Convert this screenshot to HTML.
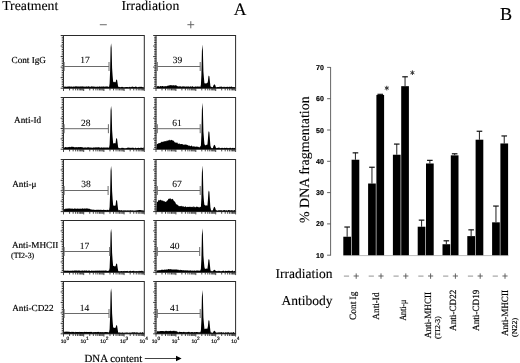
<!DOCTYPE html>
<html><head><meta charset="utf-8"><style>
html,body{margin:0;padding:0;background:#fff;width:520px;height:363px;overflow:hidden}
svg{display:block;filter:grayscale(1)}
text{fill:#000;stroke:#000;stroke-width:0.18px;text-rendering:geometricPrecision}
</style></head><body>
<svg width="520" height="363" viewBox="0 0 520 363">
<text x="2.2" y="10.0" font-size="13.75" text-anchor="start" font-family="Liberation Serif" font-weight="normal"  style="stroke-width:0.12px">Treatment</text>
<text x="121.5" y="10.2" font-size="13.7" text-anchor="start" font-family="Liberation Serif" font-weight="normal"  style="stroke-width:0.12px">Irradiation</text>
<text x="233.8" y="14.6" font-size="17.6" text-anchor="start" font-family="Liberation Serif" font-weight="normal"  style="stroke-width:0.12px">A</text>
<text x="500.0" y="19.5" font-size="18.2" text-anchor="start" font-family="Liberation Serif" font-weight="normal"  style="stroke-width:0.12px">B</text>
<path d="M99.8,24.7H106.8" stroke="#777" stroke-width="1.1"/>
<path d="M187.4,24.7H194.2M190.8,21.2V28.3" stroke="#666" stroke-width="1"/>
<text x="11.5" y="62.6" font-size="9.2" text-anchor="start" font-family="Liberation Serif" font-weight="normal" >Cont IgG</text>
<text x="14.1" y="122.5" font-size="9.2" text-anchor="start" font-family="Liberation Serif" font-weight="normal" >Anti-Id</text>
<text x="12.2" y="187.1" font-size="9.2" text-anchor="start" font-family="Liberation Serif" font-weight="normal" >Anti-&#956;</text>
<text x="11.9" y="247.8" font-size="9.2" text-anchor="start" font-family="Liberation Serif" font-weight="normal" >Anti-MHCII</text>
<text x="12.2" y="310.8" font-size="9.2" text-anchor="start" font-family="Liberation Serif" font-weight="normal" >Anti-CD22</text>
<text x="11.0" y="257.8" font-size="7.9" text-anchor="start" font-family="Liberation Serif" font-weight="normal" >(TI2-3)</text>
<rect x="63.5" y="35.5" width="80.8" height="52.7" fill="none" stroke="#2a2a2a" stroke-width="1"/>
<path d="M60.7,88.20H63.9 M61.7,86.44H63.9 M61.7,84.69H63.9 M61.7,82.93H63.9 M61.7,81.17H63.9 M61.7,79.42H63.9 M60.7,77.66H63.9 M61.7,75.90H63.9 M61.7,74.15H63.9 M61.7,72.39H63.9 M61.7,70.63H63.9 M61.7,68.88H63.9 M60.7,67.12H63.9 M61.7,65.36H63.9 M61.7,63.61H63.9 M61.7,61.85H63.9 M61.7,60.09H63.9 M61.7,58.34H63.9 M60.7,56.58H63.9 M61.7,54.82H63.9 M61.7,53.07H63.9 M61.7,51.31H63.9 M61.7,49.55H63.9 M61.7,47.80H63.9 M60.7,46.04H63.9 M61.7,44.28H63.9 M61.7,42.53H63.9 M61.7,40.77H63.9 M61.7,39.01H63.9 M61.7,37.26H63.9 M60.7,35.50H63.9" stroke="#333" stroke-width="1"/>
<path d="M63.50,88.2v2.8 M69.58,88.2v2.2 M73.14,88.2v2.2 M75.66,88.2v2.2 M77.62,88.2v2.2 M79.22,88.2v2.2 M80.57,88.2v2.2 M81.74,88.2v2.2 M82.78,88.2v2.2 M83.70,88.2v2.8 M89.78,88.2v2.2 M93.34,88.2v2.2 M95.86,88.2v2.2 M97.82,88.2v2.2 M99.42,88.2v2.2 M100.77,88.2v2.2 M101.94,88.2v2.2 M102.98,88.2v2.2 M103.90,88.2v2.8 M109.98,88.2v2.2 M113.54,88.2v2.2 M116.06,88.2v2.2 M118.02,88.2v2.2 M119.62,88.2v2.2 M120.97,88.2v2.2 M122.14,88.2v2.2 M123.18,88.2v2.2 M124.10,88.2v2.8 M130.18,88.2v2.2 M133.74,88.2v2.2 M136.26,88.2v2.2 M138.22,88.2v2.2 M139.82,88.2v2.2 M141.17,88.2v2.2 M142.34,88.2v2.2 M143.38,88.2v2.2 M144.30,88.2v2.8" stroke="#333" stroke-width="0.9"/>
<path d="M64.0,88.2 L64.10,86.81 L64.60,86.61 L65.10,86.68 L65.60,86.60 L66.10,86.64 L66.60,86.85 L67.10,86.40 L67.60,86.77 L68.10,86.33 L68.60,86.66 L69.10,86.32 L69.60,86.43 L70.10,86.83 L70.60,86.41 L71.10,86.55 L71.60,86.62 L72.10,86.71 L72.60,86.78 L73.10,86.59 L73.60,86.55 L74.10,86.72 L74.60,86.48 L75.10,86.56 L75.60,86.37 L76.10,86.54 L76.60,86.32 L77.10,86.45 L77.60,86.61 L78.10,86.50 L78.60,86.51 L79.10,86.41 L79.60,86.54 L80.10,86.63 L80.60,86.33 L81.10,86.50 L81.60,86.48 L82.10,86.30 L82.60,86.46 L83.10,86.50 L83.60,86.62 L84.10,86.83 L84.60,86.44 L85.10,86.75 L85.60,86.38 L86.10,86.63 L86.60,86.37 L87.10,86.38 L87.60,86.65 L88.10,86.37 L88.60,86.34 L89.10,86.76 L89.60,86.61 L90.10,86.67 L90.60,86.65 L91.10,86.56 L91.60,86.34 L92.10,86.53 L92.60,86.59 L93.10,86.39 L93.60,86.41 L94.10,86.66 L94.60,86.52 L95.10,86.86 L95.60,86.80 L96.10,86.87 L96.60,86.81 L97.10,86.68 L97.60,86.38 L98.10,86.65 L98.60,86.69 L99.10,86.83 L99.60,86.30 L100.10,86.61 L100.60,86.84 L101.10,86.74 L101.60,86.45 L102.10,86.33 L102.60,86.72 L103.10,86.71 L103.60,86.31 L104.10,86.42 L104.60,86.68 L105.10,86.44 L105.60,86.43 L106.10,86.77 L106.60,86.31 L107.10,86.42 L107.60,86.46 L108.10,86.59 L108.60,86.88 L109.10,86.73 L109.60,83.70 L110.10,71.10 L110.60,47.70 L111.10,43.20 L111.60,47.70 L112.10,67.95 L112.60,75.60 L113.10,81.45 L113.60,82.05 L114.10,82.62 L114.60,81.79 L115.10,81.95 L115.60,82.52 L116.10,80.10 L116.60,79.40 L117.10,80.10 L117.60,83.36 L118.10,86.44 L118.60,86.75 L119.10,87.20 L119.60,86.69 L120.10,87.15 L120.60,87.20 L121.10,86.70 L121.60,87.02 L122.10,87.09 L122.60,86.81 L123.10,87.20 L123.60,87.20 L124.10,87.20 L124.60,87.20 L125.10,87.15 L125.60,86.98 L126.10,87.10 L126.60,86.90 L127.10,86.88 L127.60,86.95 L128.10,87.30 L128.60,87.16 L129.10,86.72 L129.60,87.04 L130.10,86.86 L130.60,87.22 L131.10,87.10 L131.60,86.68 L132.10,86.85 L132.60,86.57 L133.10,86.81 L133.60,86.89 L134.10,86.94 L134.60,86.92 L135.10,86.74 L135.60,86.55 L136.10,86.85 L136.60,86.63 L137.10,87.20 L137.60,87.24 L138.10,87.24 L138.60,86.67 L139.10,87.18 L139.60,86.77 L140.10,86.59 L140.60,87.12 L141.10,86.98 L141.60,86.51 L142.10,87.17 L142.60,86.89 L143.10,87.14 L143.60,86.72 L143.8,88.2 Z" fill="#000"/>
<path d="M64.1,66.5H109.0M64.1,62.0v9M109.0,62.0v9" stroke="#6a6a6a" stroke-width="1" fill="none"/>
<text x="80.3" y="63.4" font-size="9.5" text-anchor="start" font-family="Liberation Serif" font-weight="normal" style="stroke-width:0.08px">17</text>
<rect x="63.5" y="97.5" width="80.8" height="51.7" fill="none" stroke="#2a2a2a" stroke-width="1"/>
<path d="M60.7,149.20H63.9 M61.7,147.48H63.9 M61.7,145.75H63.9 M61.7,144.03H63.9 M61.7,142.31H63.9 M61.7,140.58H63.9 M60.7,138.86H63.9 M61.7,137.14H63.9 M61.7,135.41H63.9 M61.7,133.69H63.9 M61.7,131.97H63.9 M61.7,130.24H63.9 M60.7,128.52H63.9 M61.7,126.80H63.9 M61.7,125.07H63.9 M61.7,123.35H63.9 M61.7,121.63H63.9 M61.7,119.90H63.9 M60.7,118.18H63.9 M61.7,116.46H63.9 M61.7,114.73H63.9 M61.7,113.01H63.9 M61.7,111.29H63.9 M61.7,109.56H63.9 M60.7,107.84H63.9 M61.7,106.12H63.9 M61.7,104.39H63.9 M61.7,102.67H63.9 M61.7,100.95H63.9 M61.7,99.22H63.9 M60.7,97.50H63.9" stroke="#333" stroke-width="1"/>
<path d="M63.50,149.2v2.8 M69.58,149.2v2.2 M73.14,149.2v2.2 M75.66,149.2v2.2 M77.62,149.2v2.2 M79.22,149.2v2.2 M80.57,149.2v2.2 M81.74,149.2v2.2 M82.78,149.2v2.2 M83.70,149.2v2.8 M89.78,149.2v2.2 M93.34,149.2v2.2 M95.86,149.2v2.2 M97.82,149.2v2.2 M99.42,149.2v2.2 M100.77,149.2v2.2 M101.94,149.2v2.2 M102.98,149.2v2.2 M103.90,149.2v2.8 M109.98,149.2v2.2 M113.54,149.2v2.2 M116.06,149.2v2.2 M118.02,149.2v2.2 M119.62,149.2v2.2 M120.97,149.2v2.2 M122.14,149.2v2.2 M123.18,149.2v2.2 M124.10,149.2v2.8 M130.18,149.2v2.2 M133.74,149.2v2.2 M136.26,149.2v2.2 M138.22,149.2v2.2 M139.82,149.2v2.2 M141.17,149.2v2.2 M142.34,149.2v2.2 M143.38,149.2v2.2 M144.30,149.2v2.8" stroke="#333" stroke-width="0.9"/>
<path d="M64.0,149.2 L64.10,147.41 L64.60,147.45 L65.10,147.31 L65.60,147.00 L66.10,146.99 L66.60,147.39 L67.10,147.05 L67.60,147.42 L68.10,146.92 L68.60,147.29 L69.10,146.87 L69.60,146.97 L70.10,147.34 L70.60,147.09 L71.10,146.76 L71.60,146.82 L72.10,146.79 L72.60,146.78 L73.10,147.10 L73.60,146.74 L74.10,147.22 L74.60,147.16 L75.10,147.20 L75.60,147.18 L76.10,147.12 L76.60,147.13 L77.10,147.19 L77.60,147.29 L78.10,147.29 L78.60,146.97 L79.10,147.02 L79.60,147.25 L80.10,147.12 L80.60,146.94 L81.10,147.20 L81.60,146.97 L82.10,147.13 L82.60,147.31 L83.10,147.54 L83.60,147.72 L84.10,147.36 L84.60,147.71 L85.10,147.30 L85.60,147.41 L86.10,147.66 L86.60,147.54 L87.10,147.55 L87.60,147.24 L88.10,147.32 L88.60,147.24 L89.10,147.61 L89.60,147.59 L90.10,147.52 L90.60,147.52 L91.10,147.67 L91.60,147.59 L92.10,147.82 L92.60,147.70 L93.10,147.52 L93.60,147.44 L94.10,147.31 L94.60,147.65 L95.10,147.31 L95.60,147.46 L96.10,147.35 L96.60,147.40 L97.10,147.36 L97.60,147.54 L98.10,147.36 L98.60,147.36 L99.10,147.32 L99.60,147.45 L100.10,147.85 L100.60,147.65 L101.10,147.37 L101.60,147.49 L102.10,147.46 L102.60,147.76 L103.10,147.43 L103.60,147.56 L104.10,147.61 L104.60,147.54 L105.10,147.72 L105.60,147.54 L106.10,147.30 L106.60,147.66 L107.10,147.48 L107.60,147.51 L108.10,147.62 L108.60,147.74 L109.10,147.53 L109.60,144.87 L110.10,132.75 L110.60,110.23 L111.10,105.90 L111.60,110.23 L112.10,129.71 L112.60,137.08 L113.10,142.70 L113.60,143.68 L114.10,142.88 L114.60,143.25 L115.10,143.49 L115.60,143.04 L116.10,138.90 L116.60,138.00 L117.10,138.90 L117.60,143.04 L118.10,146.96 L118.60,148.05 L119.10,148.20 L119.60,148.08 L120.10,148.20 L120.60,148.17 L121.10,148.20 L121.60,147.80 L122.10,147.73 L122.60,147.75 L123.10,148.13 L123.60,147.68 L124.10,148.14 L124.60,148.20 L125.10,148.20 L125.60,148.19 L126.10,148.20 L126.60,147.89 L127.10,148.00 L127.60,147.59 L128.10,147.80 L128.60,147.55 L129.10,147.72 L129.60,147.71 L130.10,147.70 L130.60,148.07 L131.10,147.56 L131.60,147.92 L132.10,148.06 L132.60,147.52 L133.10,147.78 L133.60,147.85 L134.10,148.17 L134.60,148.13 L135.10,147.90 L135.60,147.57 L136.10,147.94 L136.60,148.15 L137.10,148.03 L137.60,148.11 L138.10,147.84 L138.60,147.70 L139.10,147.97 L139.60,148.00 L140.10,148.25 L140.60,147.53 L141.10,147.90 L141.60,147.61 L142.10,148.08 L142.60,147.98 L143.10,147.54 L143.60,147.60 L143.8,149.2 Z" fill="#000"/>
<path d="M64.1,128.7H108.4M64.1,124.2v9M108.4,124.2v9" stroke="#6a6a6a" stroke-width="1" fill="none"/>
<text x="81.0" y="125.7" font-size="9.5" text-anchor="start" font-family="Liberation Serif" font-weight="normal" style="stroke-width:0.08px">28</text>
<rect x="63.5" y="159.5" width="80.8" height="52.1" fill="none" stroke="#2a2a2a" stroke-width="1"/>
<path d="M60.7,211.60H63.9 M61.7,209.86H63.9 M61.7,208.13H63.9 M61.7,206.39H63.9 M61.7,204.65H63.9 M61.7,202.92H63.9 M60.7,201.18H63.9 M61.7,199.44H63.9 M61.7,197.71H63.9 M61.7,195.97H63.9 M61.7,194.23H63.9 M61.7,192.50H63.9 M60.7,190.76H63.9 M61.7,189.02H63.9 M61.7,187.29H63.9 M61.7,185.55H63.9 M61.7,183.81H63.9 M61.7,182.08H63.9 M60.7,180.34H63.9 M61.7,178.60H63.9 M61.7,176.87H63.9 M61.7,175.13H63.9 M61.7,173.39H63.9 M61.7,171.66H63.9 M60.7,169.92H63.9 M61.7,168.18H63.9 M61.7,166.45H63.9 M61.7,164.71H63.9 M61.7,162.97H63.9 M61.7,161.24H63.9 M60.7,159.50H63.9" stroke="#333" stroke-width="1"/>
<path d="M63.50,211.6v2.8 M69.58,211.6v2.2 M73.14,211.6v2.2 M75.66,211.6v2.2 M77.62,211.6v2.2 M79.22,211.6v2.2 M80.57,211.6v2.2 M81.74,211.6v2.2 M82.78,211.6v2.2 M83.70,211.6v2.8 M89.78,211.6v2.2 M93.34,211.6v2.2 M95.86,211.6v2.2 M97.82,211.6v2.2 M99.42,211.6v2.2 M100.77,211.6v2.2 M101.94,211.6v2.2 M102.98,211.6v2.2 M103.90,211.6v2.8 M109.98,211.6v2.2 M113.54,211.6v2.2 M116.06,211.6v2.2 M118.02,211.6v2.2 M119.62,211.6v2.2 M120.97,211.6v2.2 M122.14,211.6v2.2 M123.18,211.6v2.2 M124.10,211.6v2.8 M130.18,211.6v2.2 M133.74,211.6v2.2 M136.26,211.6v2.2 M138.22,211.6v2.2 M139.82,211.6v2.2 M141.17,211.6v2.2 M142.34,211.6v2.2 M143.38,211.6v2.2 M144.30,211.6v2.8" stroke="#333" stroke-width="0.9"/>
<path d="M64.0,211.6 L64.10,208.95 L64.60,209.00 L65.10,209.18 L65.60,208.52 L66.10,208.47 L66.60,208.75 L67.10,208.81 L67.60,208.49 L68.10,208.47 L68.60,208.44 L69.10,208.57 L69.60,208.43 L70.10,208.35 L70.60,208.72 L71.10,208.75 L71.60,208.48 L72.10,208.86 L72.60,208.55 L73.10,208.77 L73.60,208.89 L74.10,208.62 L74.60,208.51 L75.10,208.61 L75.60,208.75 L76.10,208.48 L76.60,208.89 L77.10,208.50 L77.60,208.75 L78.10,208.34 L78.60,208.88 L79.10,208.65 L79.60,208.78 L80.10,208.46 L80.60,208.78 L81.10,208.71 L81.60,208.76 L82.10,208.44 L82.60,208.33 L83.10,208.79 L83.60,208.65 L84.10,208.33 L84.60,208.66 L85.10,208.32 L85.60,208.87 L86.10,208.66 L86.60,208.37 L87.10,208.30 L87.60,208.70 L88.10,208.34 L88.60,208.88 L89.10,208.67 L89.60,208.74 L90.10,209.14 L90.60,209.13 L91.10,209.47 L91.60,209.62 L92.10,209.45 L92.60,209.84 L93.10,209.82 L93.60,209.56 L94.10,209.90 L94.60,209.79 L95.10,209.64 L95.60,209.91 L96.10,210.10 L96.60,209.77 L97.10,209.61 L97.60,210.00 L98.10,209.74 L98.60,209.74 L99.10,210.01 L99.60,209.73 L100.10,209.78 L100.60,209.75 L101.10,209.92 L101.60,209.63 L102.10,210.06 L102.60,209.92 L103.10,209.76 L103.60,209.79 L104.10,209.77 L104.60,210.05 L105.10,210.03 L105.60,209.90 L106.10,209.81 L106.60,210.23 L107.10,209.94 L107.60,209.69 L108.10,209.69 L108.60,210.24 L109.10,210.00 L109.60,207.05 L110.10,194.31 L110.60,170.65 L111.10,166.10 L111.60,170.65 L112.10,191.12 L112.60,198.86 L113.10,204.78 L113.60,205.85 L114.10,205.95 L114.60,205.52 L115.10,205.70 L115.60,205.16 L116.10,200.84 L116.60,199.90 L117.10,200.84 L117.60,205.16 L118.10,209.26 L118.60,210.60 L119.10,210.10 L119.60,210.13 L120.10,210.18 L120.60,210.60 L121.10,210.12 L121.60,210.37 L122.10,210.60 L122.60,210.60 L123.10,210.60 L123.60,210.33 L124.10,210.60 L124.60,210.31 L125.10,210.58 L125.60,210.23 L126.10,210.60 L126.60,210.38 L127.10,210.19 L127.60,210.57 L128.10,210.37 L128.60,210.45 L129.10,210.45 L129.60,210.41 L130.10,210.01 L130.60,210.41 L131.10,210.12 L131.60,210.70 L132.10,210.36 L132.60,210.38 L133.10,210.33 L133.60,210.69 L134.10,210.19 L134.60,210.63 L135.10,210.40 L135.60,210.58 L136.10,210.28 L136.60,210.61 L137.10,210.06 L137.60,210.54 L138.10,209.95 L138.60,210.31 L139.10,209.96 L139.60,209.98 L140.10,210.04 L140.60,210.07 L141.10,210.38 L141.60,210.04 L142.10,210.53 L142.60,210.29 L143.10,210.60 L143.60,210.12 L143.8,211.6 Z" fill="#000"/>
<path d="M64.1,190.5H108.1M64.1,186.0v9M108.1,186.0v9" stroke="#6a6a6a" stroke-width="1" fill="none"/>
<text x="81.3" y="187.1" font-size="9.5" text-anchor="start" font-family="Liberation Serif" font-weight="normal" style="stroke-width:0.08px">38</text>
<rect x="63.5" y="220.5" width="80.8" height="51.8" fill="none" stroke="#2a2a2a" stroke-width="1"/>
<path d="M60.7,272.30H63.9 M61.7,270.57H63.9 M61.7,268.85H63.9 M61.7,267.12H63.9 M61.7,265.39H63.9 M61.7,263.67H63.9 M60.7,261.94H63.9 M61.7,260.21H63.9 M61.7,258.49H63.9 M61.7,256.76H63.9 M61.7,255.03H63.9 M61.7,253.31H63.9 M60.7,251.58H63.9 M61.7,249.85H63.9 M61.7,248.13H63.9 M61.7,246.40H63.9 M61.7,244.67H63.9 M61.7,242.95H63.9 M60.7,241.22H63.9 M61.7,239.49H63.9 M61.7,237.77H63.9 M61.7,236.04H63.9 M61.7,234.31H63.9 M61.7,232.59H63.9 M60.7,230.86H63.9 M61.7,229.13H63.9 M61.7,227.41H63.9 M61.7,225.68H63.9 M61.7,223.95H63.9 M61.7,222.23H63.9 M60.7,220.50H63.9" stroke="#333" stroke-width="1"/>
<path d="M63.50,272.3v2.8 M69.58,272.3v2.2 M73.14,272.3v2.2 M75.66,272.3v2.2 M77.62,272.3v2.2 M79.22,272.3v2.2 M80.57,272.3v2.2 M81.74,272.3v2.2 M82.78,272.3v2.2 M83.70,272.3v2.8 M89.78,272.3v2.2 M93.34,272.3v2.2 M95.86,272.3v2.2 M97.82,272.3v2.2 M99.42,272.3v2.2 M100.77,272.3v2.2 M101.94,272.3v2.2 M102.98,272.3v2.2 M103.90,272.3v2.8 M109.98,272.3v2.2 M113.54,272.3v2.2 M116.06,272.3v2.2 M118.02,272.3v2.2 M119.62,272.3v2.2 M120.97,272.3v2.2 M122.14,272.3v2.2 M123.18,272.3v2.2 M124.10,272.3v2.8 M130.18,272.3v2.2 M133.74,272.3v2.2 M136.26,272.3v2.2 M138.22,272.3v2.2 M139.82,272.3v2.2 M141.17,272.3v2.2 M142.34,272.3v2.2 M143.38,272.3v2.2 M144.30,272.3v2.8" stroke="#333" stroke-width="0.9"/>
<path d="M64.0,272.3 L64.10,270.66 L64.60,270.62 L65.10,270.55 L65.60,270.67 L66.10,270.74 L66.60,270.65 L67.10,270.60 L67.60,270.74 L68.10,270.63 L68.60,270.86 L69.10,270.53 L69.60,270.89 L70.10,270.87 L70.60,270.74 L71.10,270.73 L71.60,270.84 L72.10,270.73 L72.60,270.53 L73.10,270.84 L73.60,270.77 L74.10,270.44 L74.60,270.40 L75.10,270.51 L75.60,270.41 L76.10,270.43 L76.60,270.48 L77.10,270.44 L77.60,270.79 L78.10,270.62 L78.60,270.49 L79.10,270.57 L79.60,270.45 L80.10,270.84 L80.60,270.81 L81.10,270.89 L81.60,270.44 L82.10,270.46 L82.60,270.53 L83.10,270.68 L83.60,270.73 L84.10,270.51 L84.60,270.47 L85.10,270.40 L85.60,270.73 L86.10,270.58 L86.60,270.41 L87.10,270.54 L87.60,270.89 L88.10,270.63 L88.60,270.56 L89.10,270.41 L89.60,270.60 L90.10,271.00 L90.60,270.91 L91.10,270.74 L91.60,270.46 L92.10,270.86 L92.60,270.71 L93.10,270.79 L93.60,270.79 L94.10,270.65 L94.60,270.77 L95.10,270.72 L95.60,270.44 L96.10,270.91 L96.60,270.62 L97.10,270.52 L97.60,270.84 L98.10,270.61 L98.60,270.79 L99.10,270.72 L99.60,270.46 L100.10,270.46 L100.60,270.68 L101.10,270.86 L101.60,270.53 L102.10,270.67 L102.60,270.45 L103.10,270.64 L103.60,270.62 L104.10,270.57 L104.60,270.82 L105.10,270.47 L105.60,270.57 L106.10,270.49 L106.60,270.63 L107.10,270.63 L107.60,270.94 L108.10,270.98 L108.60,270.55 L109.10,270.49 L109.60,267.94 L110.10,255.73 L110.60,233.06 L111.10,228.70 L111.60,233.06 L112.10,252.68 L112.60,260.09 L113.10,265.76 L113.60,266.05 L114.10,265.92 L114.60,266.56 L115.10,266.17 L115.60,266.13 L116.10,264.11 L116.60,263.40 L117.10,264.11 L117.60,267.41 L118.10,270.52 L118.60,271.30 L119.10,271.30 L119.60,271.30 L120.10,271.25 L120.60,271.30 L121.10,271.00 L121.60,271.00 L122.10,271.30 L122.60,271.24 L123.10,270.91 L123.60,271.30 L124.10,270.84 L124.60,271.30 L125.10,271.30 L125.60,270.89 L126.10,271.04 L126.60,270.89 L127.10,271.32 L127.60,270.79 L128.10,271.14 L128.60,271.38 L129.10,271.17 L129.60,271.11 L130.10,270.63 L130.60,270.72 L131.10,271.38 L131.60,271.05 L132.10,271.12 L132.60,270.97 L133.10,270.71 L133.60,270.74 L134.10,271.40 L134.60,270.79 L135.10,271.40 L135.60,271.01 L136.10,271.25 L136.60,271.12 L137.10,271.19 L137.60,271.17 L138.10,270.84 L138.60,271.31 L139.10,271.34 L139.60,270.84 L140.10,270.90 L140.60,271.08 L141.10,270.69 L141.60,270.69 L142.10,271.24 L142.60,270.68 L143.10,271.10 L143.60,271.21 L143.8,272.3 Z" fill="#000"/>
<path d="M64.1,251.5H109.7M64.1,247.0v9M109.7,247.0v9" stroke="#6a6a6a" stroke-width="1" fill="none"/>
<text x="79.8" y="249.2" font-size="9.5" text-anchor="start" font-family="Liberation Serif" font-weight="normal" style="stroke-width:0.08px">17</text>
<rect x="63.5" y="281.5" width="80.8" height="52.3" fill="none" stroke="#2a2a2a" stroke-width="1"/>
<path d="M60.7,333.80H63.9 M61.7,332.06H63.9 M61.7,330.31H63.9 M61.7,328.57H63.9 M61.7,326.83H63.9 M61.7,325.08H63.9 M60.7,323.34H63.9 M61.7,321.60H63.9 M61.7,319.85H63.9 M61.7,318.11H63.9 M61.7,316.37H63.9 M61.7,314.62H63.9 M60.7,312.88H63.9 M61.7,311.14H63.9 M61.7,309.39H63.9 M61.7,307.65H63.9 M61.7,305.91H63.9 M61.7,304.16H63.9 M60.7,302.42H63.9 M61.7,300.68H63.9 M61.7,298.93H63.9 M61.7,297.19H63.9 M61.7,295.45H63.9 M61.7,293.70H63.9 M60.7,291.96H63.9 M61.7,290.22H63.9 M61.7,288.47H63.9 M61.7,286.73H63.9 M61.7,284.99H63.9 M61.7,283.24H63.9 M60.7,281.50H63.9" stroke="#333" stroke-width="1"/>
<path d="M63.50,333.8v2.8 M69.58,333.8v2.2 M73.14,333.8v2.2 M75.66,333.8v2.2 M77.62,333.8v2.2 M79.22,333.8v2.2 M80.57,333.8v2.2 M81.74,333.8v2.2 M82.78,333.8v2.2 M83.70,333.8v2.8 M89.78,333.8v2.2 M93.34,333.8v2.2 M95.86,333.8v2.2 M97.82,333.8v2.2 M99.42,333.8v2.2 M100.77,333.8v2.2 M101.94,333.8v2.2 M102.98,333.8v2.2 M103.90,333.8v2.8 M109.98,333.8v2.2 M113.54,333.8v2.2 M116.06,333.8v2.2 M118.02,333.8v2.2 M119.62,333.8v2.2 M120.97,333.8v2.2 M122.14,333.8v2.2 M123.18,333.8v2.2 M124.10,333.8v2.8 M130.18,333.8v2.2 M133.74,333.8v2.2 M136.26,333.8v2.2 M138.22,333.8v2.2 M139.82,333.8v2.2 M141.17,333.8v2.2 M142.34,333.8v2.2 M143.38,333.8v2.2 M144.30,333.8v2.8" stroke="#333" stroke-width="0.9"/>
<path d="M64.0,333.8 L64.10,331.79 L64.60,331.80 L65.10,331.94 L65.60,331.58 L66.10,331.59 L66.60,331.73 L67.10,331.59 L67.60,331.63 L68.10,331.82 L68.60,331.83 L69.10,331.55 L69.60,332.02 L70.10,331.96 L70.60,332.11 L71.10,332.15 L71.60,331.86 L72.10,331.73 L72.60,332.08 L73.10,331.83 L73.60,332.05 L74.10,331.93 L74.60,332.19 L75.10,332.30 L75.60,331.85 L76.10,332.02 L76.60,332.05 L77.10,331.97 L77.60,331.89 L78.10,331.98 L78.60,331.89 L79.10,332.20 L79.60,331.81 L80.10,331.93 L80.60,331.94 L81.10,332.08 L81.60,331.98 L82.10,332.10 L82.60,331.93 L83.10,332.21 L83.60,332.09 L84.10,332.12 L84.60,331.81 L85.10,331.98 L85.60,332.10 L86.10,331.79 L86.60,332.05 L87.10,331.91 L87.60,331.95 L88.10,332.04 L88.60,331.96 L89.10,332.01 L89.60,332.05 L90.10,331.83 L90.60,331.99 L91.10,331.95 L91.60,331.82 L92.10,332.37 L92.60,332.17 L93.10,332.16 L93.60,332.00 L94.10,332.26 L94.60,331.98 L95.10,331.95 L95.60,331.95 L96.10,332.30 L96.60,331.97 L97.10,332.05 L97.60,332.10 L98.10,331.86 L98.60,332.06 L99.10,331.96 L99.60,332.27 L100.10,332.31 L100.60,332.05 L101.10,332.03 L101.60,332.31 L102.10,332.35 L102.60,332.03 L103.10,332.32 L103.60,332.18 L104.10,332.09 L104.60,332.21 L105.10,331.96 L105.60,331.98 L106.10,331.98 L106.60,331.99 L107.10,332.23 L107.60,331.92 L108.10,332.21 L108.60,332.41 L109.10,332.03 L109.60,329.25 L110.10,316.51 L110.60,292.85 L111.10,288.30 L111.60,292.85 L112.10,313.32 L112.60,321.06 L113.10,326.98 L113.60,327.86 L114.10,327.74 L114.60,328.07 L115.10,327.81 L115.60,327.83 L116.10,325.70 L116.60,325.00 L117.10,325.70 L117.60,328.96 L118.10,332.04 L118.60,332.73 L119.10,332.31 L119.60,332.54 L120.10,332.80 L120.60,332.51 L121.10,332.76 L121.60,332.63 L122.10,332.35 L122.60,332.48 L123.10,332.76 L123.60,332.74 L124.10,332.62 L124.60,332.80 L125.10,332.70 L125.60,332.40 L126.10,332.40 L126.60,332.50 L127.10,332.49 L127.60,332.38 L128.10,332.64 L128.60,332.66 L129.10,332.39 L129.60,332.87 L130.10,332.19 L130.60,332.86 L131.10,332.90 L131.60,332.16 L132.10,332.37 L132.60,332.17 L133.10,332.41 L133.60,332.34 L134.10,332.36 L134.60,332.37 L135.10,332.29 L135.60,332.75 L136.10,332.28 L136.60,332.38 L137.10,332.24 L137.60,332.45 L138.10,332.66 L138.60,332.65 L139.10,332.39 L139.60,332.86 L140.10,332.87 L140.60,332.25 L141.10,332.17 L141.60,332.89 L142.10,332.43 L142.60,332.12 L143.10,332.57 L143.60,332.38 L143.8,333.8 Z" fill="#000"/>
<path d="M64.1,313.5H109.0M64.1,309.0v9M109.0,309.0v9" stroke="#6a6a6a" stroke-width="1" fill="none"/>
<text x="79.8" y="310.7" font-size="9.5" text-anchor="start" font-family="Liberation Serif" font-weight="normal" style="stroke-width:0.08px">14</text>
<text x="60.8" y="343.2" font-size="5.0" text-anchor="start" font-family="Liberation Sans" font-weight="normal" >10</text>
<text x="66.39999999999999" y="339.8" font-size="4.8" text-anchor="start" font-family="Liberation Sans" font-weight="normal" >0</text>
<text x="80.5" y="343.2" font-size="5.0" text-anchor="start" font-family="Liberation Sans" font-weight="normal" >10</text>
<text x="86.1" y="339.8" font-size="4.8" text-anchor="start" font-family="Liberation Sans" font-weight="normal" >1</text>
<text x="100.19999999999999" y="343.2" font-size="5.0" text-anchor="start" font-family="Liberation Sans" font-weight="normal" >10</text>
<text x="105.79999999999998" y="339.8" font-size="4.8" text-anchor="start" font-family="Liberation Sans" font-weight="normal" >2</text>
<text x="119.89999999999999" y="343.2" font-size="5.0" text-anchor="start" font-family="Liberation Sans" font-weight="normal" >10</text>
<text x="125.49999999999999" y="339.8" font-size="4.8" text-anchor="start" font-family="Liberation Sans" font-weight="normal" >3</text>
<text x="139.6" y="343.2" font-size="5.0" text-anchor="start" font-family="Liberation Sans" font-weight="normal" >10</text>
<text x="145.2" y="339.8" font-size="4.8" text-anchor="start" font-family="Liberation Sans" font-weight="normal" >4</text>
<rect x="156" y="35.5" width="79.6" height="52.7" fill="none" stroke="#2a2a2a" stroke-width="1"/>
<path d="M153.2,88.20H156.4 M154.2,86.44H156.4 M154.2,84.69H156.4 M154.2,82.93H156.4 M154.2,81.17H156.4 M154.2,79.42H156.4 M153.2,77.66H156.4 M154.2,75.90H156.4 M154.2,74.15H156.4 M154.2,72.39H156.4 M154.2,70.63H156.4 M154.2,68.88H156.4 M153.2,67.12H156.4 M154.2,65.36H156.4 M154.2,63.61H156.4 M154.2,61.85H156.4 M154.2,60.09H156.4 M154.2,58.34H156.4 M153.2,56.58H156.4 M154.2,54.82H156.4 M154.2,53.07H156.4 M154.2,51.31H156.4 M154.2,49.55H156.4 M154.2,47.80H156.4 M153.2,46.04H156.4 M154.2,44.28H156.4 M154.2,42.53H156.4 M154.2,40.77H156.4 M154.2,39.01H156.4 M154.2,37.26H156.4 M153.2,35.50H156.4" stroke="#333" stroke-width="1"/>
<path d="M156.00,88.2v2.8 M161.99,88.2v2.2 M165.49,88.2v2.2 M167.98,88.2v2.2 M169.91,88.2v2.2 M171.49,88.2v2.2 M172.82,88.2v2.2 M173.97,88.2v2.2 M174.99,88.2v2.2 M175.90,88.2v2.8 M181.89,88.2v2.2 M185.39,88.2v2.2 M187.88,88.2v2.2 M189.81,88.2v2.2 M191.39,88.2v2.2 M192.72,88.2v2.2 M193.87,88.2v2.2 M194.89,88.2v2.2 M195.80,88.2v2.8 M201.79,88.2v2.2 M205.29,88.2v2.2 M207.78,88.2v2.2 M209.71,88.2v2.2 M211.29,88.2v2.2 M212.62,88.2v2.2 M213.77,88.2v2.2 M214.79,88.2v2.2 M215.70,88.2v2.8 M221.69,88.2v2.2 M225.19,88.2v2.2 M227.68,88.2v2.2 M229.61,88.2v2.2 M231.19,88.2v2.2 M232.52,88.2v2.2 M233.67,88.2v2.2 M234.69,88.2v2.2 M235.60,88.2v2.8" stroke="#333" stroke-width="0.9"/>
<path d="M156.5,88.2 L156.90,86.58 L157.40,86.18 L157.90,86.00 L158.40,86.06 L158.90,86.56 L159.40,86.42 L159.90,86.45 L160.40,86.10 L160.90,86.04 L161.40,86.50 L161.90,86.12 L162.40,85.98 L162.90,85.96 L163.40,86.53 L163.90,86.14 L164.40,86.46 L164.90,86.08 L165.40,86.00 L165.90,86.47 L166.40,86.16 L166.90,86.09 L167.40,85.86 L167.90,85.75 L168.40,85.69 L168.90,85.27 L169.40,85.23 L169.90,85.52 L170.40,85.12 L170.90,85.20 L171.40,85.34 L171.90,85.20 L172.40,85.51 L172.90,85.17 L173.40,85.29 L173.90,85.16 L174.40,85.53 L174.90,85.54 L175.40,85.35 L175.90,85.17 L176.40,85.42 L176.90,85.67 L177.40,86.31 L177.90,86.26 L178.40,86.26 L178.90,86.76 L179.40,86.33 L179.90,86.37 L180.40,86.36 L180.90,86.42 L181.40,86.70 L181.90,86.38 L182.40,86.49 L182.90,86.36 L183.40,86.51 L183.90,86.31 L184.40,86.40 L184.90,86.50 L185.40,86.75 L185.90,86.45 L186.40,86.53 L186.90,86.56 L187.40,86.85 L187.90,86.30 L188.40,86.51 L188.90,86.49 L189.40,86.66 L189.90,86.73 L190.40,86.31 L190.90,86.42 L191.40,86.69 L191.90,86.50 L192.40,86.35 L192.90,86.35 L193.40,86.91 L193.90,86.82 L194.40,86.91 L194.90,86.42 L195.40,86.38 L195.90,86.38 L196.40,86.66 L196.90,86.38 L197.40,86.62 L197.90,86.39 L198.40,86.60 L198.90,86.80 L199.40,86.33 L199.90,86.96 L200.40,86.78 L200.90,84.70 L201.40,75.09 L201.90,51.05 L202.40,44.50 L202.90,51.05 L203.40,71.59 L203.90,77.71 L204.40,82.96 L204.90,83.59 L205.40,83.44 L205.90,83.22 L206.40,83.46 L206.90,83.02 L207.40,82.98 L207.90,81.16 L208.40,76.42 L208.90,75.40 L209.40,76.42 L209.90,81.16 L210.40,85.64 L210.90,87.07 L211.40,86.81 L211.90,86.95 L212.40,87.20 L212.90,86.89 L213.40,85.54 L213.90,84.66 L214.40,84.30 L214.90,84.66 L215.40,85.54 L215.90,87.17 L216.40,87.20 L216.90,87.20 L217.40,86.92 L217.90,86.92 L218.40,87.09 L218.90,87.01 L219.40,86.50 L219.90,87.22 L220.40,86.58 L220.90,86.72 L221.40,86.52 L221.90,86.65 L222.40,87.19 L222.90,86.63 L223.40,87.15 L223.90,86.57 L224.40,86.84 L224.90,87.16 L225.40,86.73 L225.90,87.24 L226.40,86.81 L226.90,87.08 L227.40,86.81 L227.90,86.65 L228.40,87.14 L228.90,86.71 L229.40,86.72 L229.90,86.65 L230.40,86.63 L230.90,86.91 L231.40,86.57 L231.90,86.60 L232.40,87.15 L232.90,87.01 L233.40,87.00 L233.90,87.30 L234.40,86.94 L234.90,87.20 L235.1,88.2 Z" fill="#000"/>
<path d="M157.3,66.5H200.2M157.3,62.0v9M200.2,62.0v9" stroke="#6a6a6a" stroke-width="1" fill="none"/>
<text x="172.7" y="63.4" font-size="9.5" text-anchor="start" font-family="Liberation Serif" font-weight="normal" style="stroke-width:0.08px">39</text>
<rect x="156" y="97.5" width="79.6" height="51.7" fill="none" stroke="#2a2a2a" stroke-width="1"/>
<path d="M153.2,149.20H156.4 M154.2,147.48H156.4 M154.2,145.75H156.4 M154.2,144.03H156.4 M154.2,142.31H156.4 M154.2,140.58H156.4 M153.2,138.86H156.4 M154.2,137.14H156.4 M154.2,135.41H156.4 M154.2,133.69H156.4 M154.2,131.97H156.4 M154.2,130.24H156.4 M153.2,128.52H156.4 M154.2,126.80H156.4 M154.2,125.07H156.4 M154.2,123.35H156.4 M154.2,121.63H156.4 M154.2,119.90H156.4 M153.2,118.18H156.4 M154.2,116.46H156.4 M154.2,114.73H156.4 M154.2,113.01H156.4 M154.2,111.29H156.4 M154.2,109.56H156.4 M153.2,107.84H156.4 M154.2,106.12H156.4 M154.2,104.39H156.4 M154.2,102.67H156.4 M154.2,100.95H156.4 M154.2,99.22H156.4 M153.2,97.50H156.4" stroke="#333" stroke-width="1"/>
<path d="M156.00,149.2v2.8 M161.99,149.2v2.2 M165.49,149.2v2.2 M167.98,149.2v2.2 M169.91,149.2v2.2 M171.49,149.2v2.2 M172.82,149.2v2.2 M173.97,149.2v2.2 M174.99,149.2v2.2 M175.90,149.2v2.8 M181.89,149.2v2.2 M185.39,149.2v2.2 M187.88,149.2v2.2 M189.81,149.2v2.2 M191.39,149.2v2.2 M192.72,149.2v2.2 M193.87,149.2v2.2 M194.89,149.2v2.2 M195.80,149.2v2.8 M201.79,149.2v2.2 M205.29,149.2v2.2 M207.78,149.2v2.2 M209.71,149.2v2.2 M211.29,149.2v2.2 M212.62,149.2v2.2 M213.77,149.2v2.2 M214.79,149.2v2.2 M215.70,149.2v2.8 M221.69,149.2v2.2 M225.19,149.2v2.2 M227.68,149.2v2.2 M229.61,149.2v2.2 M231.19,149.2v2.2 M232.52,149.2v2.2 M233.67,149.2v2.2 M234.69,149.2v2.2 M235.60,149.2v2.8" stroke="#333" stroke-width="0.9"/>
<path d="M156.5,149.2 L156.90,144.12 L157.40,144.01 L157.90,143.66 L158.40,143.20 L158.90,143.34 L159.40,142.98 L159.90,143.27 L160.40,142.71 L160.90,142.54 L161.40,141.53 L161.90,142.28 L162.40,142.05 L162.90,141.45 L163.40,141.43 L163.90,141.82 L164.40,140.97 L164.90,141.57 L165.40,141.02 L165.90,141.37 L166.40,141.26 L166.90,140.29 L167.40,140.53 L167.90,140.92 L168.40,139.89 L168.90,140.42 L169.40,140.19 L169.90,139.59 L170.40,140.37 L170.90,140.48 L171.40,139.80 L171.90,139.98 L172.40,140.16 L172.90,140.66 L173.40,140.43 L173.90,141.36 L174.40,141.75 L174.90,142.42 L175.40,142.21 L175.90,142.97 L176.40,142.40 L176.90,142.73 L177.40,142.59 L177.90,143.78 L178.40,143.66 L178.90,143.81 L179.40,143.20 L179.90,144.17 L180.40,144.03 L180.90,144.26 L181.40,143.89 L181.90,144.01 L182.40,144.17 L182.90,144.29 L183.40,144.73 L183.90,144.81 L184.40,144.54 L184.90,144.80 L185.40,144.55 L185.90,144.60 L186.40,144.68 L186.90,144.74 L187.40,145.07 L187.90,145.29 L188.40,145.69 L188.90,145.50 L189.40,145.54 L189.90,145.95 L190.40,146.18 L190.90,145.96 L191.40,145.45 L191.90,145.79 L192.40,146.72 L192.90,146.36 L193.40,146.50 L193.90,146.17 L194.40,146.86 L194.90,146.33 L195.40,146.90 L195.90,146.57 L196.40,146.40 L196.90,146.81 L197.40,146.56 L197.90,146.91 L198.40,146.65 L198.90,147.36 L199.40,147.42 L199.90,146.85 L200.40,146.42 L200.90,145.49 L201.40,135.28 L201.90,109.76 L202.40,102.80 L202.90,109.76 L203.40,131.57 L203.90,138.06 L204.40,143.63 L204.90,145.00 L205.40,145.32 L205.90,145.36 L206.40,144.92 L206.90,144.58 L207.40,144.66 L207.90,139.24 L208.40,132.55 L208.90,131.10 L209.40,132.55 L209.90,139.24 L210.40,145.58 L210.90,147.18 L211.40,147.91 L211.90,148.14 L212.40,148.15 L212.90,147.91 L213.40,146.26 L213.90,145.22 L214.40,144.80 L214.90,145.22 L215.40,146.26 L215.90,147.68 L216.40,148.02 L216.90,148.20 L217.40,147.70 L217.90,147.89 L218.40,147.58 L218.90,147.64 L219.40,147.59 L219.90,148.17 L220.40,147.89 L220.90,148.15 L221.40,147.80 L221.90,148.02 L222.40,147.79 L222.90,147.97 L223.40,148.05 L223.90,148.30 L224.40,147.63 L224.90,147.77 L225.40,147.90 L225.90,148.09 L226.40,147.87 L226.90,147.84 L227.40,148.20 L227.90,147.69 L228.40,148.22 L228.90,147.88 L229.40,147.81 L229.90,148.25 L230.40,147.68 L230.90,147.73 L231.40,148.16 L231.90,148.22 L232.40,147.83 L232.90,147.94 L233.40,148.26 L233.90,147.83 L234.40,147.95 L234.90,148.10 L235.1,149.2 Z" fill="#000"/>
<path d="M157.3,128.7H200.2M157.3,124.2v9M200.2,124.2v9" stroke="#6a6a6a" stroke-width="1" fill="none"/>
<text x="172.29999999999998" y="125.7" font-size="9.5" text-anchor="start" font-family="Liberation Serif" font-weight="normal" style="stroke-width:0.08px">61</text>
<rect x="156" y="159.5" width="79.6" height="52.1" fill="none" stroke="#2a2a2a" stroke-width="1"/>
<path d="M153.2,211.60H156.4 M154.2,209.86H156.4 M154.2,208.13H156.4 M154.2,206.39H156.4 M154.2,204.65H156.4 M154.2,202.92H156.4 M153.2,201.18H156.4 M154.2,199.44H156.4 M154.2,197.71H156.4 M154.2,195.97H156.4 M154.2,194.23H156.4 M154.2,192.50H156.4 M153.2,190.76H156.4 M154.2,189.02H156.4 M154.2,187.29H156.4 M154.2,185.55H156.4 M154.2,183.81H156.4 M154.2,182.08H156.4 M153.2,180.34H156.4 M154.2,178.60H156.4 M154.2,176.87H156.4 M154.2,175.13H156.4 M154.2,173.39H156.4 M154.2,171.66H156.4 M153.2,169.92H156.4 M154.2,168.18H156.4 M154.2,166.45H156.4 M154.2,164.71H156.4 M154.2,162.97H156.4 M154.2,161.24H156.4 M153.2,159.50H156.4" stroke="#333" stroke-width="1"/>
<path d="M156.00,211.6v2.8 M161.99,211.6v2.2 M165.49,211.6v2.2 M167.98,211.6v2.2 M169.91,211.6v2.2 M171.49,211.6v2.2 M172.82,211.6v2.2 M173.97,211.6v2.2 M174.99,211.6v2.2 M175.90,211.6v2.8 M181.89,211.6v2.2 M185.39,211.6v2.2 M187.88,211.6v2.2 M189.81,211.6v2.2 M191.39,211.6v2.2 M192.72,211.6v2.2 M193.87,211.6v2.2 M194.89,211.6v2.2 M195.80,211.6v2.8 M201.79,211.6v2.2 M205.29,211.6v2.2 M207.78,211.6v2.2 M209.71,211.6v2.2 M211.29,211.6v2.2 M212.62,211.6v2.2 M213.77,211.6v2.2 M214.79,211.6v2.2 M215.70,211.6v2.8 M221.69,211.6v2.2 M225.19,211.6v2.2 M227.68,211.6v2.2 M229.61,211.6v2.2 M231.19,211.6v2.2 M232.52,211.6v2.2 M233.67,211.6v2.2 M234.69,211.6v2.2 M235.60,211.6v2.8" stroke="#333" stroke-width="0.9"/>
<path d="M156.5,211.6 L156.90,202.27 L157.40,201.64 L157.90,201.76 L158.40,200.37 L158.90,199.78 L159.40,200.33 L159.90,200.53 L160.40,199.75 L160.90,199.85 L161.40,200.59 L161.90,200.58 L162.40,200.45 L162.90,200.66 L163.40,200.71 L163.90,201.56 L164.40,201.12 L164.90,201.87 L165.40,201.77 L165.90,202.02 L166.40,201.60 L166.90,200.65 L167.40,200.55 L167.90,200.10 L168.40,198.62 L168.90,199.31 L169.40,198.63 L169.90,198.35 L170.40,198.36 L170.90,199.23 L171.40,199.34 L171.90,199.19 L172.40,198.79 L172.90,199.20 L173.40,199.96 L173.90,200.97 L174.40,201.37 L174.90,201.80 L175.40,202.58 L175.90,203.65 L176.40,204.58 L176.90,204.23 L177.40,204.74 L177.90,205.14 L178.40,205.49 L178.90,206.29 L179.40,206.37 L179.90,205.88 L180.40,206.31 L180.90,205.91 L181.40,205.86 L181.90,206.61 L182.40,206.17 L182.90,206.62 L183.40,206.30 L183.90,206.84 L184.40,206.77 L184.90,206.99 L185.40,206.13 L185.90,206.39 L186.40,207.21 L186.90,207.03 L187.40,206.83 L187.90,206.93 L188.40,207.10 L188.90,206.65 L189.40,207.04 L189.90,206.54 L190.40,207.37 L190.90,206.46 L191.40,207.35 L191.90,206.69 L192.40,207.14 L192.90,206.50 L193.40,206.37 L193.90,207.38 L194.40,207.02 L194.90,206.51 L195.40,207.42 L195.90,207.03 L196.40,206.72 L196.90,206.57 L197.40,207.04 L197.90,206.76 L198.40,206.99 L198.90,207.45 L199.40,207.55 L199.90,206.63 L200.40,206.94 L200.90,206.83 L201.40,197.80 L201.90,172.50 L202.40,165.60 L202.90,172.50 L203.40,194.12 L203.90,200.56 L204.40,205.28 L204.90,204.86 L205.40,205.50 L205.90,205.66 L206.40,205.47 L206.90,205.25 L207.40,205.63 L207.90,199.94 L208.40,192.10 L208.90,190.40 L209.40,192.10 L209.90,199.94 L210.40,207.36 L210.90,209.65 L211.40,210.57 L211.90,210.54 L212.40,210.60 L212.90,210.09 L213.40,208.43 L213.90,207.28 L214.40,206.80 L214.90,207.28 L215.40,208.43 L215.90,210.14 L216.40,210.35 L216.90,210.33 L217.40,210.60 L217.90,210.68 L218.40,210.03 L218.90,210.55 L219.40,210.02 L219.90,210.57 L220.40,210.04 L220.90,210.44 L221.40,210.04 L221.90,210.41 L222.40,210.40 L222.90,210.51 L223.40,210.25 L223.90,210.04 L224.40,209.98 L224.90,210.30 L225.40,210.57 L225.90,210.24 L226.40,210.15 L226.90,210.35 L227.40,210.63 L227.90,210.35 L228.40,210.12 L228.90,210.03 L229.40,210.07 L229.90,210.47 L230.40,210.29 L230.90,210.43 L231.40,210.17 L231.90,209.98 L232.40,210.46 L232.90,210.25 L233.40,210.54 L233.90,210.44 L234.40,209.92 L234.90,210.01 L235.1,211.6 Z" fill="#000"/>
<path d="M157.3,190.5H200.2M157.3,186.0v9M200.2,186.0v9" stroke="#6a6a6a" stroke-width="1" fill="none"/>
<text x="172.29999999999998" y="187.1" font-size="9.5" text-anchor="start" font-family="Liberation Serif" font-weight="normal" style="stroke-width:0.08px">67</text>
<rect x="156" y="220.5" width="79.6" height="51.8" fill="none" stroke="#2a2a2a" stroke-width="1"/>
<path d="M153.2,272.30H156.4 M154.2,270.57H156.4 M154.2,268.85H156.4 M154.2,267.12H156.4 M154.2,265.39H156.4 M154.2,263.67H156.4 M153.2,261.94H156.4 M154.2,260.21H156.4 M154.2,258.49H156.4 M154.2,256.76H156.4 M154.2,255.03H156.4 M154.2,253.31H156.4 M153.2,251.58H156.4 M154.2,249.85H156.4 M154.2,248.13H156.4 M154.2,246.40H156.4 M154.2,244.67H156.4 M154.2,242.95H156.4 M153.2,241.22H156.4 M154.2,239.49H156.4 M154.2,237.77H156.4 M154.2,236.04H156.4 M154.2,234.31H156.4 M154.2,232.59H156.4 M153.2,230.86H156.4 M154.2,229.13H156.4 M154.2,227.41H156.4 M154.2,225.68H156.4 M154.2,223.95H156.4 M154.2,222.23H156.4 M153.2,220.50H156.4" stroke="#333" stroke-width="1"/>
<path d="M156.00,272.3v2.8 M161.99,272.3v2.2 M165.49,272.3v2.2 M167.98,272.3v2.2 M169.91,272.3v2.2 M171.49,272.3v2.2 M172.82,272.3v2.2 M173.97,272.3v2.2 M174.99,272.3v2.2 M175.90,272.3v2.8 M181.89,272.3v2.2 M185.39,272.3v2.2 M187.88,272.3v2.2 M189.81,272.3v2.2 M191.39,272.3v2.2 M192.72,272.3v2.2 M193.87,272.3v2.2 M194.89,272.3v2.2 M195.80,272.3v2.8 M201.79,272.3v2.2 M205.29,272.3v2.2 M207.78,272.3v2.2 M209.71,272.3v2.2 M211.29,272.3v2.2 M212.62,272.3v2.2 M213.77,272.3v2.2 M214.79,272.3v2.2 M215.70,272.3v2.8 M221.69,272.3v2.2 M225.19,272.3v2.2 M227.68,272.3v2.2 M229.61,272.3v2.2 M231.19,272.3v2.2 M232.52,272.3v2.2 M233.67,272.3v2.2 M234.69,272.3v2.2 M235.60,272.3v2.8" stroke="#333" stroke-width="0.9"/>
<path d="M156.5,272.3 L156.90,270.34 L157.40,270.57 L157.90,270.24 L158.40,270.22 L158.90,270.22 L159.40,270.28 L159.90,269.88 L160.40,270.25 L160.90,270.04 L161.40,269.86 L161.90,269.86 L162.40,269.84 L162.90,269.87 L163.40,269.95 L163.90,269.68 L164.40,269.44 L164.90,269.85 L165.40,269.71 L165.90,269.48 L166.40,269.42 L166.90,269.40 L167.40,269.61 L167.90,269.57 L168.40,269.04 L168.90,269.08 L169.40,269.39 L169.90,268.98 L170.40,268.94 L170.90,269.39 L171.40,269.20 L171.90,269.51 L172.40,269.61 L172.90,269.47 L173.40,269.38 L173.90,269.61 L174.40,269.58 L174.90,269.52 L175.40,269.60 L175.90,269.47 L176.40,269.58 L176.90,269.60 L177.40,269.60 L177.90,269.91 L178.40,269.60 L178.90,270.18 L179.40,270.18 L179.90,269.79 L180.40,269.75 L180.90,270.19 L181.40,270.11 L181.90,270.06 L182.40,270.44 L182.90,270.00 L183.40,270.19 L183.90,270.14 L184.40,270.50 L184.90,270.30 L185.40,270.17 L185.90,270.45 L186.40,270.62 L186.90,270.20 L187.40,270.58 L187.90,270.26 L188.40,270.52 L188.90,270.68 L189.40,270.54 L189.90,270.43 L190.40,270.61 L190.90,270.29 L191.40,270.77 L191.90,270.63 L192.40,270.51 L192.90,270.66 L193.40,270.54 L193.90,270.89 L194.40,270.32 L194.90,270.84 L195.40,270.70 L195.90,270.65 L196.40,270.62 L196.90,270.40 L197.40,270.41 L197.90,270.53 L198.40,270.51 L198.90,270.64 L199.40,270.87 L199.90,270.52 L200.40,270.46 L200.90,268.78 L201.40,259.10 L201.90,234.90 L202.40,228.30 L202.90,234.90 L203.40,255.58 L203.90,261.74 L204.40,267.02 L204.90,268.65 L205.40,268.99 L205.90,268.55 L206.40,268.43 L206.90,268.83 L207.40,268.70 L207.90,264.99 L208.40,260.06 L208.90,259.00 L209.40,260.06 L209.90,264.99 L210.40,269.64 L210.90,271.19 L211.40,271.30 L211.90,270.85 L212.40,271.30 L212.90,271.30 L213.40,270.44 L213.90,269.99 L214.40,269.80 L214.90,269.99 L215.40,270.44 L215.90,271.07 L216.40,270.92 L216.90,271.25 L217.40,271.30 L217.90,270.70 L218.40,270.66 L218.90,271.14 L219.40,270.88 L219.90,270.86 L220.40,271.35 L220.90,271.36 L221.40,271.13 L221.90,270.92 L222.40,271.03 L222.90,270.66 L223.40,270.61 L223.90,270.91 L224.40,271.14 L224.90,271.28 L225.40,270.79 L225.90,270.75 L226.40,270.97 L226.90,270.96 L227.40,270.92 L227.90,270.81 L228.40,270.83 L228.90,270.78 L229.40,270.78 L229.90,271.04 L230.40,270.98 L230.90,271.29 L231.40,271.02 L231.90,270.78 L232.40,270.61 L232.90,270.79 L233.40,271.38 L233.90,271.35 L234.40,270.96 L234.90,270.65 L235.1,272.3 Z" fill="#000"/>
<path d="M157.3,251.5H199.7M157.3,247.0v9M199.7,247.0v9" stroke="#6a6a6a" stroke-width="1" fill="none"/>
<text x="170.1" y="249.2" font-size="9.5" text-anchor="start" font-family="Liberation Serif" font-weight="normal" style="stroke-width:0.08px">40</text>
<rect x="156" y="281.5" width="79.6" height="52.3" fill="none" stroke="#2a2a2a" stroke-width="1"/>
<path d="M153.2,333.80H156.4 M154.2,332.06H156.4 M154.2,330.31H156.4 M154.2,328.57H156.4 M154.2,326.83H156.4 M154.2,325.08H156.4 M153.2,323.34H156.4 M154.2,321.60H156.4 M154.2,319.85H156.4 M154.2,318.11H156.4 M154.2,316.37H156.4 M154.2,314.62H156.4 M153.2,312.88H156.4 M154.2,311.14H156.4 M154.2,309.39H156.4 M154.2,307.65H156.4 M154.2,305.91H156.4 M154.2,304.16H156.4 M153.2,302.42H156.4 M154.2,300.68H156.4 M154.2,298.93H156.4 M154.2,297.19H156.4 M154.2,295.45H156.4 M154.2,293.70H156.4 M153.2,291.96H156.4 M154.2,290.22H156.4 M154.2,288.47H156.4 M154.2,286.73H156.4 M154.2,284.99H156.4 M154.2,283.24H156.4 M153.2,281.50H156.4" stroke="#333" stroke-width="1"/>
<path d="M156.00,333.8v2.8 M161.99,333.8v2.2 M165.49,333.8v2.2 M167.98,333.8v2.2 M169.91,333.8v2.2 M171.49,333.8v2.2 M172.82,333.8v2.2 M173.97,333.8v2.2 M174.99,333.8v2.2 M175.90,333.8v2.8 M181.89,333.8v2.2 M185.39,333.8v2.2 M187.88,333.8v2.2 M189.81,333.8v2.2 M191.39,333.8v2.2 M192.72,333.8v2.2 M193.87,333.8v2.2 M194.89,333.8v2.2 M195.80,333.8v2.8 M201.79,333.8v2.2 M205.29,333.8v2.2 M207.78,333.8v2.2 M209.71,333.8v2.2 M211.29,333.8v2.2 M212.62,333.8v2.2 M213.77,333.8v2.2 M214.79,333.8v2.2 M215.70,333.8v2.8 M221.69,333.8v2.2 M225.19,333.8v2.2 M227.68,333.8v2.2 M229.61,333.8v2.2 M231.19,333.8v2.2 M232.52,333.8v2.2 M233.67,333.8v2.2 M234.69,333.8v2.2 M235.60,333.8v2.8" stroke="#333" stroke-width="0.9"/>
<path d="M156.5,333.8 L156.90,331.38 L157.40,330.93 L157.90,331.46 L158.40,331.33 L158.90,331.17 L159.40,331.26 L159.90,331.18 L160.40,330.91 L160.90,331.01 L161.40,331.06 L161.90,330.92 L162.40,331.10 L162.90,330.88 L163.40,331.05 L163.90,331.27 L164.40,331.16 L164.90,331.29 L165.40,331.02 L165.90,330.80 L166.40,331.05 L166.90,330.87 L167.40,331.23 L167.90,330.89 L168.40,331.18 L168.90,330.84 L169.40,330.96 L169.90,331.09 L170.40,330.83 L170.90,330.82 L171.40,330.88 L171.90,331.23 L172.40,330.74 L172.90,331.32 L173.40,330.74 L173.90,330.77 L174.40,330.87 L174.90,331.21 L175.40,331.25 L175.90,330.75 L176.40,330.97 L176.90,331.73 L177.40,331.52 L177.90,332.18 L178.40,332.17 L178.90,332.25 L179.40,331.72 L179.90,331.80 L180.40,332.04 L180.90,332.08 L181.40,331.93 L181.90,331.91 L182.40,332.29 L182.90,332.06 L183.40,331.97 L183.90,331.79 L184.40,331.94 L184.90,332.28 L185.40,332.35 L185.90,332.09 L186.40,332.07 L186.90,332.40 L187.40,332.03 L187.90,332.09 L188.40,331.84 L188.90,332.01 L189.40,332.25 L189.90,331.86 L190.40,332.22 L190.90,332.38 L191.40,331.90 L191.90,331.92 L192.40,332.11 L192.90,332.34 L193.40,332.42 L193.90,332.03 L194.40,331.98 L194.90,332.18 L195.40,332.19 L195.90,331.94 L196.40,332.08 L196.90,332.03 L197.40,331.95 L197.90,332.17 L198.40,332.13 L198.90,332.16 L199.40,332.20 L199.90,332.19 L200.40,332.23 L200.90,330.30 L201.40,320.69 L201.90,296.66 L202.40,290.10 L202.90,296.66 L203.40,317.19 L203.90,323.31 L204.40,328.49 L204.90,329.13 L205.40,328.84 L205.90,328.47 L206.40,328.43 L206.90,328.92 L207.40,328.48 L207.90,326.21 L208.40,321.10 L208.90,320.00 L209.40,321.10 L209.90,326.21 L210.40,331.04 L210.90,332.66 L211.40,332.45 L211.90,332.51 L212.40,332.63 L212.90,332.73 L213.40,331.66 L213.90,331.05 L214.40,330.80 L214.90,331.05 L215.40,331.66 L215.90,332.40 L216.40,332.54 L216.90,332.80 L217.40,332.43 L217.90,332.60 L218.40,332.55 L218.90,332.33 L219.40,332.57 L219.90,332.25 L220.40,332.59 L220.90,332.16 L221.40,332.12 L221.90,332.60 L222.40,332.64 L222.90,332.30 L223.40,332.48 L223.90,332.18 L224.40,332.88 L224.90,332.53 L225.40,332.23 L225.90,332.52 L226.40,332.55 L226.90,332.49 L227.40,332.36 L227.90,332.58 L228.40,332.36 L228.90,332.28 L229.40,332.81 L229.90,332.84 L230.40,332.82 L230.90,332.30 L231.40,332.86 L231.90,332.33 L232.40,332.86 L232.90,332.57 L233.40,332.10 L233.90,332.20 L234.40,332.63 L234.90,332.90 L235.1,333.8 Z" fill="#000"/>
<path d="M157.3,313.5H200.2M157.3,309.0v9M200.2,309.0v9" stroke="#6a6a6a" stroke-width="1" fill="none"/>
<text x="170.1" y="310.7" font-size="9.5" text-anchor="start" font-family="Liberation Serif" font-weight="normal" style="stroke-width:0.08px">41</text>
<text x="151.8" y="343.2" font-size="5.0" text-anchor="start" font-family="Liberation Sans" font-weight="normal" >10</text>
<text x="157.4" y="339.8" font-size="4.8" text-anchor="start" font-family="Liberation Sans" font-weight="normal" >0</text>
<text x="171.65" y="343.2" font-size="5.0" text-anchor="start" font-family="Liberation Sans" font-weight="normal" >10</text>
<text x="177.25" y="339.8" font-size="4.8" text-anchor="start" font-family="Liberation Sans" font-weight="normal" >1</text>
<text x="191.5" y="343.2" font-size="5.0" text-anchor="start" font-family="Liberation Sans" font-weight="normal" >10</text>
<text x="197.1" y="339.8" font-size="4.8" text-anchor="start" font-family="Liberation Sans" font-weight="normal" >2</text>
<text x="211.35000000000002" y="343.2" font-size="5.0" text-anchor="start" font-family="Liberation Sans" font-weight="normal" >10</text>
<text x="216.95000000000002" y="339.8" font-size="4.8" text-anchor="start" font-family="Liberation Sans" font-weight="normal" >3</text>
<text x="231.20000000000002" y="343.2" font-size="5.0" text-anchor="start" font-family="Liberation Sans" font-weight="normal" >10</text>
<text x="236.8" y="339.8" font-size="4.8" text-anchor="start" font-family="Liberation Sans" font-weight="normal" >4</text>
<text x="84.5" y="362.0" font-size="10.9" text-anchor="start" font-family="Liberation Serif" font-weight="normal" >DNA content</text>
<path d="M144.8,358.5H177" stroke="#444" stroke-width="1"/><path d="M176,355.7L181.6,358.5L176,361.3z" fill="#000"/>
<path d="M330.6,67.0V255.6" stroke="#666" stroke-width="1"/>
<path d="M343.3,255.6H508.5" stroke="#aaa" stroke-width="0.8"/>
<path d="M327.1,255.2H330.6" stroke="#555" stroke-width="0.9"/>
<text x="323.8" y="257.7" font-size="7" text-anchor="end" font-family="Liberation Sans" font-weight="bold" >10</text>
<path d="M327.1,223.9H330.6" stroke="#555" stroke-width="0.9"/>
<text x="323.8" y="226.39999999999998" font-size="7" text-anchor="end" font-family="Liberation Sans" font-weight="bold" >20</text>
<path d="M327.1,192.6H330.6" stroke="#555" stroke-width="0.9"/>
<text x="323.8" y="195.1" font-size="7" text-anchor="end" font-family="Liberation Sans" font-weight="bold" >30</text>
<path d="M327.1,161.3H330.6" stroke="#555" stroke-width="0.9"/>
<text x="323.8" y="163.8" font-size="7" text-anchor="end" font-family="Liberation Sans" font-weight="bold" >40</text>
<path d="M327.1,130.0H330.6" stroke="#555" stroke-width="0.9"/>
<text x="323.8" y="132.5" font-size="7" text-anchor="end" font-family="Liberation Sans" font-weight="bold" >50</text>
<path d="M327.1,98.7H330.6" stroke="#555" stroke-width="0.9"/>
<text x="323.8" y="101.19999999999999" font-size="7" text-anchor="end" font-family="Liberation Sans" font-weight="bold" >60</text>
<path d="M327.1,67.4H330.6" stroke="#555" stroke-width="0.9"/>
<text x="323.8" y="69.9" font-size="7" text-anchor="end" font-family="Liberation Sans" font-weight="bold" >70</text>
<text x="0" y="0" font-size="14.0" text-anchor="middle" font-family="Liberation Serif" font-weight="normal" transform="translate(309.1,159.7) rotate(-90)" style="stroke-width:0.12px">% DNA fragmentation</text>
<path d="M347.15,236.73V227.03" stroke="#333" stroke-width="1.1"/>
<path d="M344.35,227.03H349.95" stroke="#111" stroke-width="1.2"/>
<rect x="343.30" y="236.73" width="7.7" height="18.47" fill="#000"/>
<path d="M355.45,159.73V152.85" stroke="#333" stroke-width="1.1"/>
<path d="M352.65,152.85H358.25" stroke="#111" stroke-width="1.2"/>
<rect x="351.60" y="159.73" width="7.7" height="95.47" fill="#000"/>
<path d="M343.9,276.1h5.2" stroke="#888" stroke-width="0.9"/>
<path d="M353.6,276.0h5.2M356.2,273.4V278.8" stroke="#555" stroke-width="0.9"/>
<path d="M371.95,183.52V167.25" stroke="#333" stroke-width="1.1"/>
<path d="M369.15,167.25H374.75" stroke="#111" stroke-width="1.2"/>
<rect x="368.10" y="183.52" width="7.7" height="71.68" fill="#000"/>
<path d="M380.25,94.94V94.32" stroke="#333" stroke-width="1.1"/>
<path d="M377.45,94.32H383.05" stroke="#111" stroke-width="1.2"/>
<rect x="376.40" y="94.94" width="7.7" height="160.26" fill="#000"/>
<path d="M368.7,276.1h5.2" stroke="#888" stroke-width="0.9"/>
<path d="M378.4,276.0h5.2M381.0,273.4V278.8" stroke="#555" stroke-width="0.9"/>
<path d="M396.75,154.73V144.08" stroke="#333" stroke-width="1.1"/>
<path d="M393.95,144.08H399.55" stroke="#111" stroke-width="1.2"/>
<rect x="392.90" y="154.73" width="7.7" height="100.47" fill="#000"/>
<path d="M405.05,86.18V76.79" stroke="#333" stroke-width="1.1"/>
<path d="M402.25,76.79H407.85" stroke="#111" stroke-width="1.2"/>
<rect x="401.20" y="86.18" width="7.7" height="169.02" fill="#000"/>
<path d="M393.5,276.1h5.2" stroke="#888" stroke-width="0.9"/>
<path d="M403.2,276.0h5.2M405.8,273.4V278.8" stroke="#555" stroke-width="0.9"/>
<path d="M421.55,226.72V220.14" stroke="#333" stroke-width="1.1"/>
<path d="M418.75,220.14H424.35" stroke="#111" stroke-width="1.2"/>
<rect x="417.70" y="226.72" width="7.7" height="28.48" fill="#000"/>
<path d="M429.85,163.49V160.36" stroke="#333" stroke-width="1.1"/>
<path d="M427.05,160.36H432.65" stroke="#111" stroke-width="1.2"/>
<rect x="426.00" y="163.49" width="7.7" height="91.71" fill="#000"/>
<path d="M418.3,276.1h5.2" stroke="#888" stroke-width="0.9"/>
<path d="M428.0,276.0h5.2M430.6,273.4V278.8" stroke="#555" stroke-width="0.9"/>
<path d="M446.35,244.24V240.80" stroke="#333" stroke-width="1.1"/>
<path d="M443.55,240.80H449.15" stroke="#111" stroke-width="1.2"/>
<rect x="442.50" y="244.24" width="7.7" height="10.96" fill="#000"/>
<path d="M454.65,155.35V153.79" stroke="#333" stroke-width="1.1"/>
<path d="M451.85,153.79H457.45" stroke="#111" stroke-width="1.2"/>
<rect x="450.80" y="155.35" width="7.7" height="99.85" fill="#000"/>
<path d="M443.1,276.1h5.2" stroke="#888" stroke-width="0.9"/>
<path d="M452.8,276.0h5.2M455.4,273.4V278.8" stroke="#555" stroke-width="0.9"/>
<path d="M471.15,236.11V229.85" stroke="#333" stroke-width="1.1"/>
<path d="M468.35,229.85H473.95" stroke="#111" stroke-width="1.2"/>
<rect x="467.30" y="236.11" width="7.7" height="19.09" fill="#000"/>
<path d="M479.45,139.70V131.25" stroke="#333" stroke-width="1.1"/>
<path d="M476.65,131.25H482.25" stroke="#111" stroke-width="1.2"/>
<rect x="475.60" y="139.70" width="7.7" height="115.50" fill="#000"/>
<path d="M467.9,276.1h5.2" stroke="#888" stroke-width="0.9"/>
<path d="M477.6,276.0h5.2M480.2,273.4V278.8" stroke="#555" stroke-width="0.9"/>
<path d="M495.95,222.33V206.06" stroke="#333" stroke-width="1.1"/>
<path d="M493.15,206.06H498.75" stroke="#111" stroke-width="1.2"/>
<rect x="492.10" y="222.33" width="7.7" height="32.87" fill="#000"/>
<path d="M504.25,143.46V135.95" stroke="#333" stroke-width="1.1"/>
<path d="M501.45,135.95H507.05" stroke="#111" stroke-width="1.2"/>
<rect x="500.40" y="143.46" width="7.7" height="111.74" fill="#000"/>
<path d="M492.7,276.1h5.2" stroke="#888" stroke-width="0.9"/>
<path d="M502.4,276.0h5.2M505.0,273.4V278.8" stroke="#555" stroke-width="0.9"/>
<path d="M386.80,85.80L386.80,90.40M388.79,86.95L384.81,89.25M388.79,89.25L384.81,86.95" stroke="#333" stroke-width="1.0"/>
<path d="M412.40,70.40L412.40,75.00M414.39,71.55L410.41,73.85M414.39,73.85L410.41,71.55" stroke="#333" stroke-width="1.0"/>
<text x="332.6" y="278.3" font-size="13.5" text-anchor="end" font-family="Liberation Serif" font-weight="normal"  style="stroke-width:0.12px">Irradiation</text>
<text x="332.6" y="305.0" font-size="13.5" text-anchor="end" font-family="Liberation Serif" font-weight="normal"  style="stroke-width:0.12px">Antibody</text>
<text x="0" y="0" font-size="9.5" font-family="Liberation Serif" textLength="28.4" lengthAdjust="spacingAndGlyphs" transform="translate(356.3,320.0) rotate(-90)">Cont Ig</text>
<text x="0" y="0" font-size="9.5" font-family="Liberation Serif" textLength="27.3" lengthAdjust="spacingAndGlyphs" transform="translate(379.0,319.7) rotate(-90)">Anti-Id</text>
<text x="0" y="0" font-size="9.5" font-family="Liberation Serif" textLength="20.6" lengthAdjust="spacingAndGlyphs" transform="translate(405.9,320.5) rotate(-90)">Anti-&#956;</text>
<text x="0" y="0" font-size="9.5" font-family="Liberation Serif" textLength="46.3" lengthAdjust="spacingAndGlyphs" transform="translate(431.0,338.2) rotate(-90)">Anti-MHCII</text>
<text x="0" y="0" font-size="9.5" font-family="Liberation Serif" textLength="41.3" lengthAdjust="spacingAndGlyphs" transform="translate(455.5,330.9) rotate(-90)">Anti-CD22</text>
<text x="0" y="0" font-size="9.5" font-family="Liberation Serif" textLength="41.3" lengthAdjust="spacingAndGlyphs" transform="translate(478.6,330.9) rotate(-90)">Anti-CD19</text>
<text x="0" y="0" font-size="9.5" font-family="Liberation Serif" textLength="46.0" lengthAdjust="spacingAndGlyphs" transform="translate(508.0,336.0) rotate(-90)">Anti-MHCII</text>
<text x="0" y="0" font-size="7.5" font-family="Liberation Serif" textLength="22.8" lengthAdjust="spacingAndGlyphs" transform="translate(440.0,339.0) rotate(-90)">(TI2-3)</text>
<text x="0" y="0" font-size="7.5" font-family="Liberation Serif" textLength="19.3" lengthAdjust="spacingAndGlyphs" transform="translate(516.6,337.0) rotate(-90)">(N22)</text>
</svg></body></html>
